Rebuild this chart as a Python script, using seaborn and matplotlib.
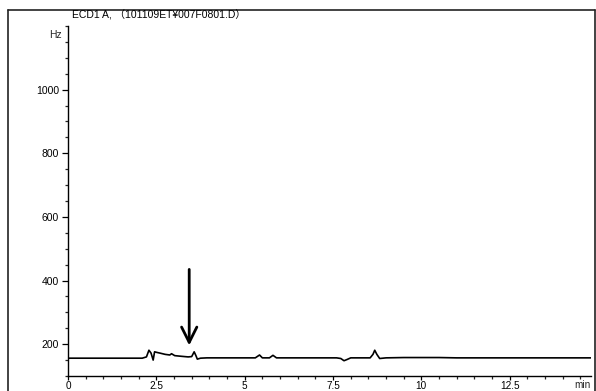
import matplotlib
matplotlib.use("Agg")
import matplotlib.pyplot as plt
from matplotlib.lines import Line2D
from matplotlib.ticker import MultipleLocator, FixedLocator
import matplotlib.transforms as mtransforms
import pandas as pd
import seaborn as sns

# Chromatogram trace (ECD1 A): retention time [min] and detector response [Hz]
time_min = [0.0, 2.10, 2.22, 2.29, 2.35, 2.41, 2.45, 2.52, 2.60, 2.75, 2.88, 2.93,
            3.02, 3.20, 3.40, 3.50, 3.57, 3.62, 3.66, 3.75, 3.93, 5.30, 5.42, 5.50,
            5.70, 5.80, 5.90, 7.60, 7.72, 7.81, 7.90, 8.00, 8.55, 8.63, 8.68, 8.74,
            8.82, 9.00, 9.50, 10.50, 11.00, 14.80]
signal_hz = [156, 156, 160, 181, 172, 150, 176, 174, 172, 168, 166, 170,
             164, 162, 160, 161, 176, 164, 153, 156, 157, 157, 166, 157,
             157, 165, 157, 157, 155, 148, 152, 157, 157, 168, 181, 168,
             155, 157, 158, 158, 157, 157]

# Marked peak (arrow from top to tip)
arrow_time = 3.43
arrow_top_hz = 435
arrow_tip_hz = 196

x_major = [0, 2.5, 5, 7.5, 10, 12.5]
x_labels = ["0", "2.5", "5", "7.5", "10", "12.5"]
y_major = [200, 400, 600, 800, 1000]
title = "ECD1 A, （101109ET¥007F0801.D）"

sns.set_style("ticks")
plt.rcParams["font.family"] = ["Liberation Sans", "Noto Sans CJK JP", "DejaVu Sans"]

W, H = 596.0, 391.0
fig = plt.figure(figsize=(W / 100, H / 100), dpi=100)
ax_bottom_px = 376.0
ax_top_px = 26.0
ax = fig.add_axes([68 / W, 1 - ax_bottom_px / H, 523 / W, (ax_bottom_px - ax_top_px) / H])

df = pd.DataFrame({"time": time_min, "signal": signal_hz})
sns.lineplot(data=df, x="time", y="signal", ax=ax, color="black", linewidth=1.2,
             estimator=None, sort=False)

ax.set_xlim(0, 14.8)
ax.set_ylim(100, 1200)

ax.xaxis.set_major_locator(FixedLocator(x_major))
ax.set_xticklabels(x_labels)
ax.xaxis.set_minor_locator(MultipleLocator(0.5))
ax.yaxis.set_major_locator(FixedLocator(y_major))
ax.yaxis.set_minor_locator(MultipleLocator(50))

ax.tick_params(axis="y", which="major", direction="out", length=4.5, width=0.9,
               labelsize=7.5, colors="black", pad=2)
ax.tick_params(axis="x", which="major", direction="out", length=3.0, width=0.9,
               labelsize=7.2, colors="black", pad=0.8)
ax.tick_params(axis="both", which="minor", direction="out", length=2.0, width=0.9)
ax.set_xlabel("")
ax.set_ylabel("")

for side in ("top", "right"):
    ax.spines[side].set_visible(False)
for side in ("left", "bottom"):
    ax.spines[side].set_linewidth(1.0)
    ax.spines[side].set_color("black")

# Axis unit labels
ax.text(-0.012, 0.975, "Hz", transform=ax.transAxes, ha="right", va="center",
        fontsize=7.5)
trans = mtransforms.blended_transform_factory(ax.transData, ax.transAxes)
ax.text(14.55, -0.012, "min", transform=trans, ha="center", va="top", fontsize=7.2)

# Title above the axes
fig.text(72 / W, 1 - 15 / H, title, ha="left", va="center", fontsize=7.5,
         color="black")

# Arrow pointing at the marked peak
ax.annotate("", xy=(arrow_time, arrow_tip_hz), xytext=(arrow_time, arrow_top_hz),
            arrowprops=dict(arrowstyle="->,head_length=1.1,head_width=0.55",
                            color="black", lw=2.0, shrinkA=0, shrinkB=0))

# Outer frame of the printed page
frame_kw = dict(color="#222222", linewidth=1.2, transform=fig.transFigure)
fig.add_artist(Line2D([8 / W, 8 / W], [0, 1 - 10 / H], **frame_kw))
fig.add_artist(Line2D([8 / W, 595 / W], [1 - 10 / H, 1 - 10 / H], **frame_kw))
fig.add_artist(Line2D([595 / W, 595 / W], [0, 1 - 10 / H], **frame_kw))

fig.savefig("out.png", dpi=100)
